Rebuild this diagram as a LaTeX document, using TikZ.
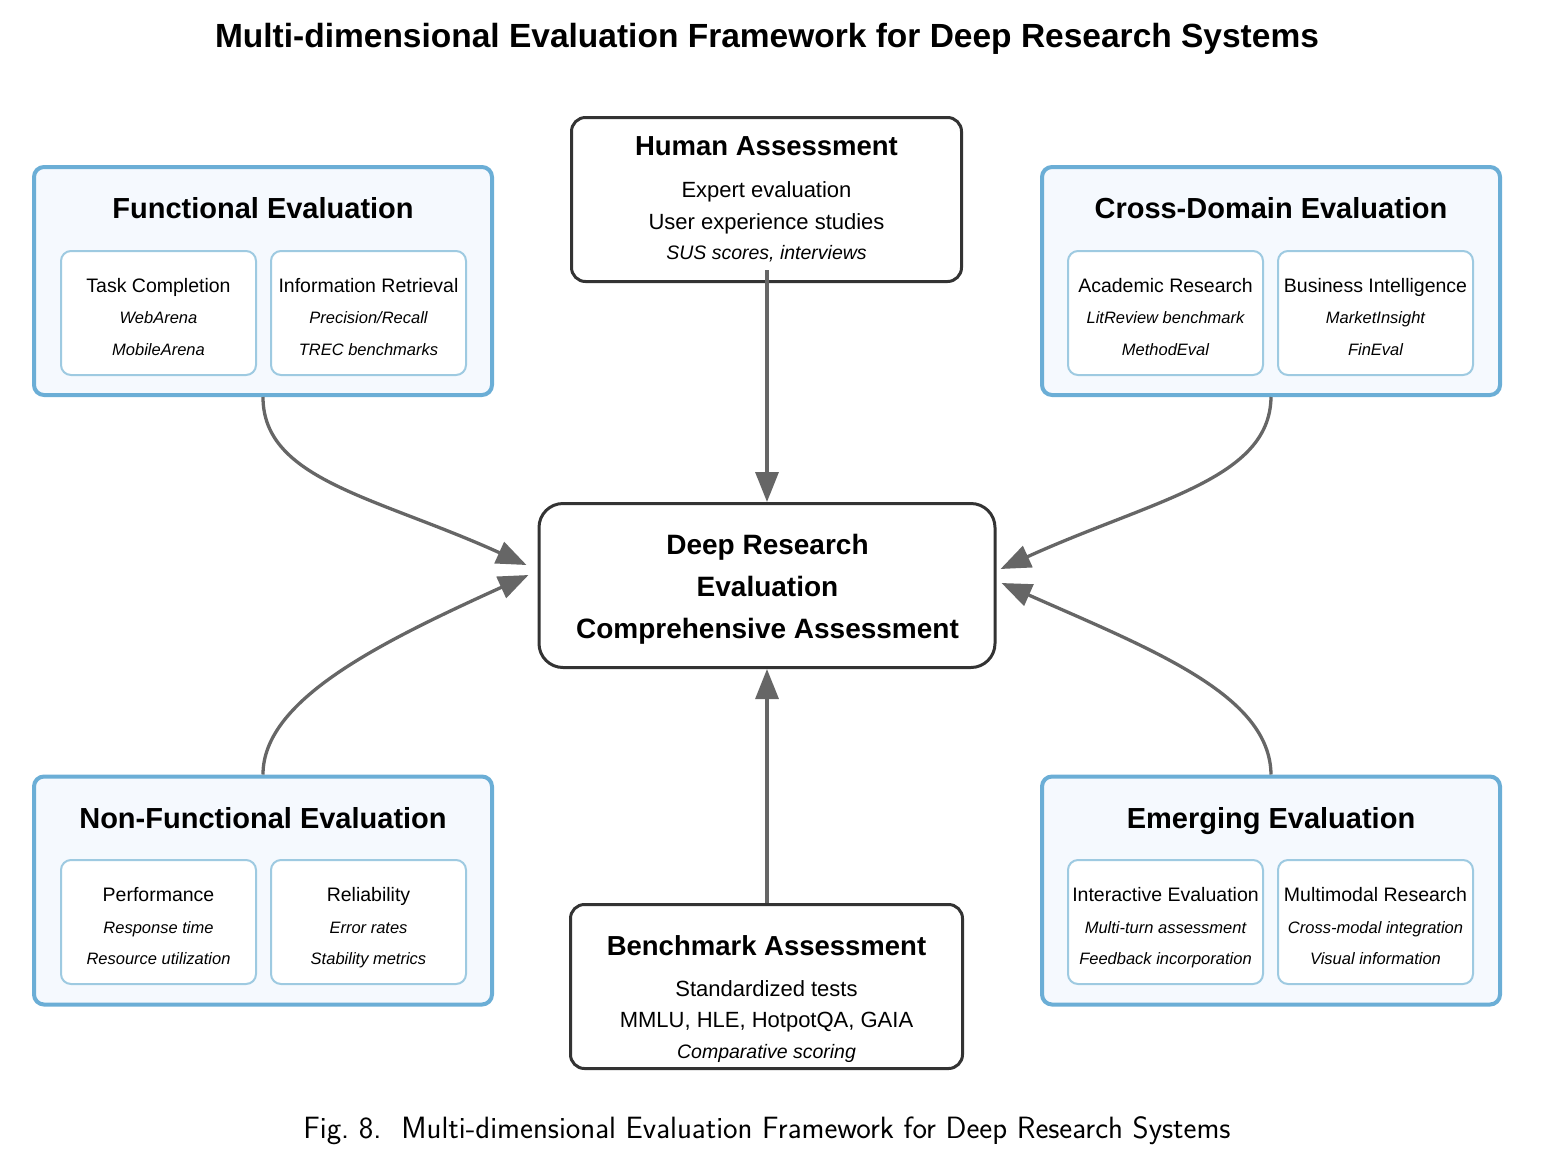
\documentclass[tikz,border=0pt]{standalone}
\usepackage{fontspec}
\setmainfont{Liberation Sans}
\usetikzlibrary{arrows.meta,calc}
\definecolor{outerblue}{HTML}{6BAED6}
\definecolor{outerfill}{HTML}{F5F9FE}
\definecolor{innerblue}{HTML}{9ECAE1}
\definecolor{darkbox}{HTML}{333333}
\definecolor{arrowgray}{HTML}{666666}
\begin{document}
\begin{tikzpicture}[x=1pt,y=-1pt,
  outerbox/.style={draw=outerblue, fill=outerfill, line width=4pt, rounded corners=10pt, minimum width=458pt, minimum height=228pt, inner sep=0pt},
  innerbox/.style={draw=innerblue, fill=white, line width=2pt, rounded corners=10pt, minimum width=195pt, minimum height=124pt, inner sep=0pt},
  mainbox/.style={draw=darkbox, fill=white, line width=3pt, rounded corners=14pt, inner sep=0pt},
  txt/.style={anchor=base, inner sep=0pt},
  fTitle/.style={txt, font=\fontsize{33.5}{40}\selectfont\bfseries},
  fGroup/.style={txt, font=\fontsize{29}{34}\selectfont\bfseries},
  fSub/.style={txt, font=\fontsize{19.5}{23}\selectfont},
  fSubIt/.style={txt, font=\fontsize{16.5}{19}\selectfont\itshape},
  fMainT/.style={txt, font=\fontsize{27.5}{33}\selectfont\bfseries},
  fMain/.style={txt, font=\fontsize{22}{26}\selectfont},
  fMainIt/.style={txt, font=\fontsize{19.5}{23}\selectfont\itshape},
  fCtr/.style={txt, font=\fontsize{28}{33}\selectfont\bfseries},
  fCap/.style={txt, font=\sffamily\fontsize{30.8}{36}\selectfont},
  arr/.style={draw=arrowgray, line width=3.3pt, -{Triangle[length=30pt,width=23pt]}}
]
\useasboundingbox (0,0) rectangle (1561,1160);

% title
\node[fTitle] (title) at (767,47) {Multi-dimensional Evaluation Framework for Deep Research Systems};

% group boxes
\node[outerbox] (func) at (263,281) {};
\node[outerbox] (cross) at (1271,281) {};
\node[outerbox] (nonf) at (263,890.5) {};
\node[outerbox] (emer) at (1271,890.5) {};

% sub boxes
\node[innerbox] (tc) at (158.5,313) {};
\node[innerbox] (ir) at (368.5,313) {};
\node[innerbox] (ar) at (1165.5,313) {};
\node[innerbox] (bi) at (1375.5,313) {};
\node[innerbox] (pf) at (158.5,922) {};
\node[innerbox] (rl) at (368.5,922) {};
\node[innerbox] (ie) at (1165.5,922) {};
\node[innerbox] (mr) at (1375.5,922) {};

% group titles
\node[fGroup] (funcT) at (263,218) {Functional Evaluation};
\node[fGroup] (crossT) at (1271,218) {Cross-Domain Evaluation};
\node[fGroup] (nonfT) at (263,828) {Non-Functional Evaluation};
\node[fGroup] (emerT) at (1271,828) {Emerging Evaluation};

% sub texts top
\node[fSub] (tc1) at (158.5,292) {Task Completion};
\node[fSubIt] (tc2) at (158.5,323) {WebArena};
\node[fSubIt] (tc3) at (158.5,355) {MobileArena};
\node[fSub] (ir1) at (368.5,292) {Information Retrieval};
\node[fSubIt] (ir2) at (368.5,323) {Precision/Recall};
\node[fSubIt] (ir3) at (368.5,355) {TREC benchmarks};
\node[fSub] (ar1) at (1165.5,292) {Academic Research};
\node[fSubIt] (ar2) at (1165.5,323) {LitReview benchmark};
\node[fSubIt] (ar3) at (1165.5,355) {MethodEval};
\node[fSub] (bi1) at (1375.5,292) {Business Intelligence};
\node[fSubIt] (bi2) at (1375.5,323) {MarketInsight};
\node[fSubIt] (bi3) at (1375.5,355) {FinEval};

% sub texts bottom
\node[fSub] (pf1) at (158.5,901) {Performance};
\node[fSubIt] (pf2) at (158.5,933) {Response time};
\node[fSubIt] (pf3) at (158.5,964) {Resource utilization};
\node[fSub] (rl1) at (368.5,901) {Reliability};
\node[fSubIt] (rl2) at (368.5,933) {Error rates};
\node[fSubIt] (rl3) at (368.5,964) {Stability metrics};
\node[fSub] (ie1) at (1165.5,901) {Interactive Evaluation};
\node[fSubIt] (ie2) at (1165.5,933) {Multi-turn assessment};
\node[fSubIt] (ie3) at (1165.5,964) {Feedback incorporation};
\node[fSub] (mr1) at (1375.5,901) {Multimodal Research};
\node[fSubIt] (mr2) at (1375.5,933) {Cross-modal integration};
\node[fSubIt] (mr3) at (1375.5,964) {Visual information};

% main boxes
\node[mainbox, minimum width=390pt, minimum height=164pt] (hum) at (766.5,199.5) {};
\node[mainbox, minimum width=456pt, minimum height=164pt, rounded corners=24pt] (ctr) at (767,585.5) {};
\node[mainbox, minimum width=392pt, minimum height=164pt] (bench) at (766.5,986.5) {};

\node[fMainT] (hum1) at (766.5,155) {Human Assessment};
\node[fMain] (hum2) at (766.5,197) {Expert evaluation};
\node[fMain] (hum3) at (766.5,229) {User experience studies};
\node[fMainIt] (hum4) at (766.5,259) {SUS scores, interviews};

\node[fCtr] (ctr1) at (767.5,554) {Deep Research};
\node[fCtr] (ctr2) at (767.5,596) {Evaluation};
\node[fCtr] (ctr3) at (767.5,638) {Comprehensive Assessment};

\node[fMainT] (bench1) at (766.5,955) {Benchmark Assessment};
\node[fMain] (bench2) at (766.5,996) {Standardized tests};
\node[fMain] (bench3) at (766.5,1027) {MMLU, HLE, HotpotQA, GAIA};
\node[fMainIt] (bench4) at (766.5,1058) {Comparative scoring};

% caption
\node[fCap] (cap) at (767,1138) {Fig.~8.\hspace{0.65em}Multi-dimensional Evaluation Framework for Deep Research Systems};

% arrows
\draw[arr] ($(hum.south -| ctr.north)+(0,-13)$) -- (ctr.north);
\draw[arr] (bench.north -| ctr.south) -- (ctr.south);
\draw[arr] (func.south) .. controls (263,480) and (377,497) .. ($(ctr.west)+(-11,-20.5)$);
\draw[arr] (nonf.north) .. controls (263,700) and (379,643) .. ($(ctr.west)+(-9,-10.5)$);
\draw[arr] (cross.south) .. controls (1270,480) and (1152,500) .. ($(ctr.east)+(4,-16.5)$);
\draw[arr] (emer.north) .. controls (1270,695) and (1153,650) .. ($(ctr.east)+(5,-2.5)$);
\end{tikzpicture}
\end{document}
